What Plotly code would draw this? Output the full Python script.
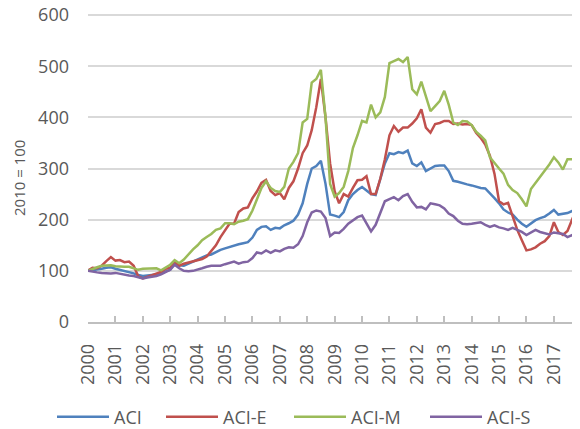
import plotly.graph_objects as go
import pandas as pd

# Bi-monthly observation dates (Jan, Mar, May, Jul, Sep, Nov), 2000-2017
dates = pd.date_range("2000-01-01", "2017-11-01", freq="2MS").strftime("%Y-%m-%d").tolist()

years = [str(y) for y in range(2000, 2018)]

aci = [
    100, 101, 103, 104, 106, 107,
    104, 102, 99, 97, 95, 92,
    90, 91, 92, 93, 96, 99,
    102, 115, 111, 110, 114, 119,
    123, 126, 130, 132, 137, 141,
    144, 147, 149, 152, 154, 156,
    165, 180, 186, 187, 180, 184,
    183, 189, 193, 198, 210, 232,
    270, 300, 305, 315, 270, 210,
    208, 205, 215, 238, 250, 258,
    264, 258, 250, 248, 280, 310,
    330, 328, 332, 330, 335, 310,
    305, 312, 295, 300, 305, 306,
    306, 295, 276, 274, 271, 269,
    267, 264, 262, 261, 252, 242,
    232, 220, 214, 210, 200, 192,
    186, 193, 199, 203, 206, 212,
    219, 210, 211, 213, 217, 220,
]

aci_e = [
    101, 106, 105, 110, 119, 127,
    120, 121, 117, 118, 110, 89,
    85, 88, 92, 95, 98, 104,
    106, 118, 110, 114, 116, 119,
    121, 123, 128, 140, 150, 166,
    180, 192, 192, 215, 222, 224,
    242, 255, 272, 278, 256, 248,
    252, 240, 262, 275, 300, 330,
    345, 375, 420, 475, 400, 310,
    255, 232, 250, 245, 262, 277,
    278, 285, 250, 250, 280, 318,
    365, 383, 372, 380, 380, 388,
    398, 416, 380, 370, 387, 389,
    393, 393, 387, 388, 386, 387,
    385, 370, 360, 347, 325, 290,
    236, 230, 233, 205, 180, 160,
    140, 142, 146, 153, 158, 168,
    195, 176, 170, 178, 200, 222,
]

aci_m = [
    100, 104, 107, 110, 110, 111,
    109, 108, 108, 108, 105, 102,
    104, 104, 105, 105, 101, 107,
    112, 121, 115, 122, 133, 142,
    150, 160, 166, 172, 180, 183,
    193, 193, 191, 196, 198, 201,
    218, 240, 262, 275, 262, 256,
    254, 264, 300, 313, 330, 390,
    397, 468, 475, 493, 400, 270,
    245, 252, 264, 295, 340, 365,
    393, 390, 425, 400, 410, 440,
    506, 510, 514, 508, 518, 455,
    445, 470, 440, 412, 422, 432,
    452, 425, 390, 385, 393, 392,
    385, 372, 364, 355, 322, 310,
    300, 290, 268, 258, 252, 240,
    226, 260, 272, 282, 295, 308,
    322, 312, 298, 318, 318, 320,
]

aci_s = [
    100, 98, 97, 96, 95, 95,
    96, 94, 92, 91, 90, 87,
    85, 87, 88, 90, 93, 97,
    102, 112, 105, 100, 99, 100,
    102, 105, 108, 110, 110, 110,
    113, 115, 118, 114, 117, 118,
    125, 136, 134, 140, 135, 140,
    138, 143, 146, 145, 152, 168,
    195, 214, 218, 216, 203, 168,
    175, 174, 182, 192, 198, 205,
    208, 192, 177, 190, 215, 236,
    240, 244, 238, 246, 250, 235,
    224, 225, 220, 232, 230, 228,
    222, 212, 207, 198, 192, 191,
    192, 193, 195, 190, 186, 189,
    185, 183, 180, 184, 180, 176,
    170, 175, 180, 176, 174, 171,
    175, 174, 172, 166, 170, 166,
]

series = [
    ("ACI", aci, "#4F81BD"),
    ("ACI-E", aci_e, "#C0504D"),
    ("ACI-M", aci_m, "#9BBB59"),
    ("ACI-S", aci_s, "#8064A2"),
]

FONT = "Open Sans"
GREY = "#595959"

# The page body adds an 8px margin, so the figure is drawn 8px smaller.
W, H = 572, 421
ML, MT, MB = 80, 5, 107
PW = W - ML
PH = H - MT - MB          # 309 px for 0..604
Y_TOP = 604

legend_ids = ["legend", "legend2", "legend3", "legend4"]
legend_px = [44, 153, 281, 417]   # left edge of each legend box (figure px)

fig = go.Figure()
for (name, vals, col), lid in zip(series, legend_ids):
    fig.add_trace(go.Scatter(
        x=dates, y=vals, name=name, mode="lines",
        line=dict(color=col, width=2.5),
        legend=lid,
    ))

legend_common = dict(
    orientation="h", xanchor="left", yanchor="middle",
    y=(MT + PH - 409) / PH,
    font=dict(family=FONT, size=18, color=GREY),
    itemwidth=52, bgcolor="rgba(0,0,0,0)", borderwidth=0,
)
legend_layout = {}
for lid, px in zip(legend_ids, legend_px):
    legend_layout[lid] = dict(legend_common, x=(px - ML) / PW)

fig.update_layout(
    width=W, height=H,
    margin=dict(l=ML, r=0, t=MT, b=MB, autoexpand=False),
    paper_bgcolor="white", plot_bgcolor="white",
    font=dict(family=FONT, size=18, color=GREY),
    showlegend=True,
    xaxis=dict(
        type="date",
        range=["2000-01-01", "2017-12-15"],
        tickmode="array",
        tickvals=[y + "-01-01" for y in years],
        ticktext=years,
        tickangle=-90,
        showgrid=False,
        showline=True, linecolor="#bfbfbf", linewidth=1.5,
        ticks="inside", ticklen=6, tickcolor="#bfbfbf", tickwidth=1.5,
        ticklabelstandoff=13,
        tickfont=dict(family=FONT, size=18, color=GREY),
        zeroline=False, automargin=False,
    ),
    yaxis=dict(
        range=[0, Y_TOP],
        tickmode="array",
        tickvals=[0, 100, 200, 300, 400, 500, 600],
        showgrid=True, gridcolor="#d9d9d9", gridwidth=1.5,
        zeroline=False, showline=False, ticks="",
        ticklabelstandoff=18,
        ticklabeloverflow="allow",
        tickfont=dict(family=FONT, size=18, color=GREY),
        automargin=False,
    ),
    annotations=[dict(
        text="2010 = 100", textangle=-90,
        xref="paper", yref="paper", x=(11 - ML) / PW, y=(MT + PH - 170) / PH,
        xanchor="center", yanchor="middle", showarrow=False,
        font=dict(family=FONT, size=15, color=GREY),
    )],
    **legend_layout,
)

fig.write_html("out.html")
